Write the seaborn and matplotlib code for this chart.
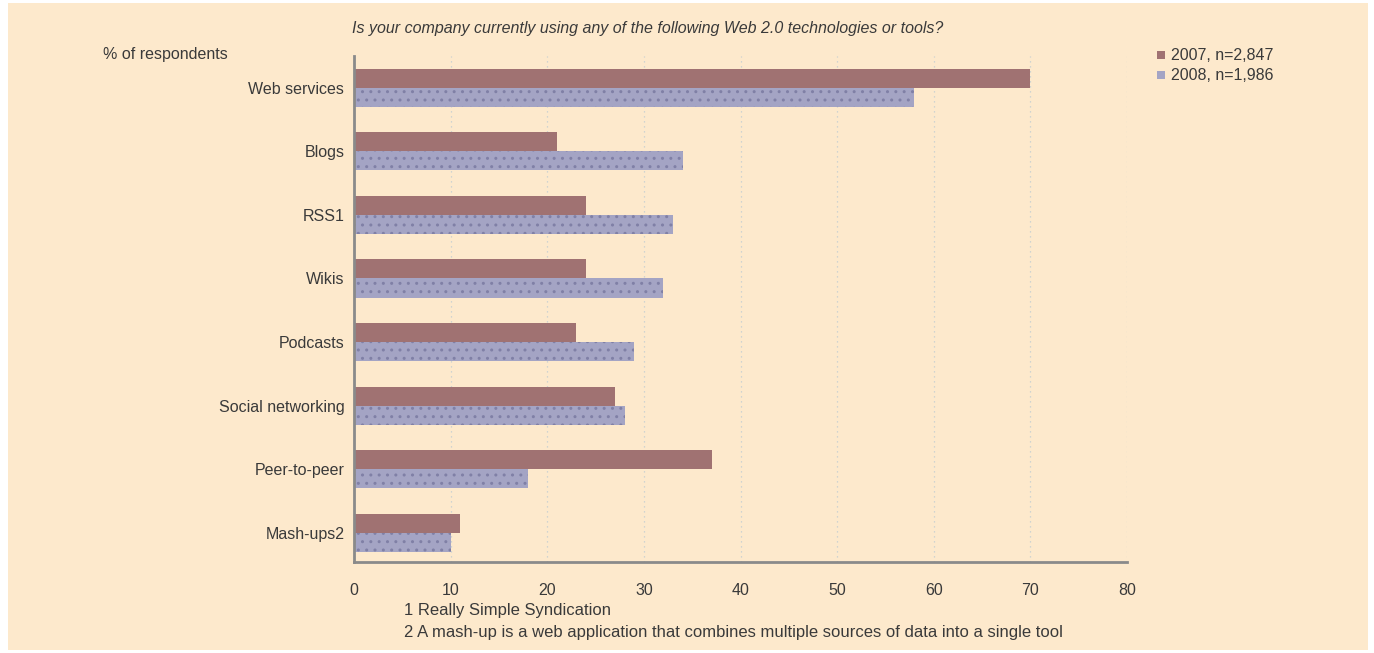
import matplotlib
matplotlib.use("Agg")
import matplotlib.pyplot as plt
import seaborn as sns
import pandas as pd
from matplotlib.patches import Rectangle

categories = ["Web services", "Blogs", "RSS1", "Wikis", "Podcasts",
              "Social networking", "Peer-to-peer", "Mash-ups2"]
values_2007 = [70, 21, 24, 24, 23, 27, 37, 11]
values_2008 = [58, 34, 33, 32, 29, 28, 18, 10]
series_labels = ["2007, n=2,847", "2008, n=1,986"]
x_ticks = [0, 10, 20, 30, 40, 50, 60, 70, 80]

df = pd.DataFrame({
    "category": categories * 2,
    "value": values_2007 + values_2008,
    "series": [series_labels[0]] * len(categories) + [series_labels[1]] * len(categories),
})

sns.set_style("white")
plt.rcParams["font.family"] = ["Liberation Sans", "DejaVu Sans"]

bg = "#fde9cc"
c2007 = "#a07272"
c2008 = "#a4a4c4"
txt = "#3a3a3a"
fs = 11.5

fig = plt.figure(figsize=(13.74, 6.53), dpi=100, facecolor="white")
fig.patches.append(Rectangle((8 / 1374, 0.005), (1368 - 8) / 1374, 0.99,
                             transform=fig.transFigure, facecolor=bg,
                             edgecolor="none", zorder=-10))

ax = fig.add_axes([354 / 1374, (653 - 562) / 653, (1127 - 354) / 1374, (562 - 56) / 653])
ax.set_facecolor("none")

sns.barplot(data=df, y="category", x="value", hue="series", orient="h",
            palette=[c2007, c2008], width=0.6, ax=ax, legend=False,
            saturation=1, linewidth=0, errorbar=None)

plt.rcParams["hatch.linewidth"] = 1.2
for p in ax.containers[1]:
    p.set_hatch("..")
    p.set_edgecolor("#8080a6")
    p.set_linewidth(0)

ax.set_xlim(0, 80)
ax.set_ylim(7.46, -0.5)
ax.set_xticks(x_ticks)
ax.set_xticklabels([str(t) for t in x_ticks], fontsize=fs, color=txt)
ax.tick_params(axis="x", length=0, pad=15)
ax.tick_params(axis="y", length=0, pad=7, labelsize=fs, labelcolor=txt)
ax.set_xlabel("")
ax.set_ylabel("")

for x in x_ticks[1:]:
    ax.axvline(x, color="#c2ccd0", linestyle=(0, (1, 3)), linewidth=0.9, zorder=0)

for s in ["top", "right"]:
    ax.spines[s].set_visible(False)
for s in ["left", "bottom"]:
    ax.spines[s].set_color("#8a8a8a")
    ax.spines[s].set_linewidth(2)

fig.text(352 / 1374, 1 - 28 / 653,
         "Is your company currently using any of the following Web 2.0 technologies or tools?",
         fontsize=fs, style="italic", color=txt, va="center", ha="left")
fig.text(103 / 1374, 1 - 55 / 653, "% of respondents", fontsize=fs, color=txt,
         va="center", ha="left")

for i, (lab, col) in enumerate(zip(series_labels, [c2007, c2008])):
    y = 1 - (55 + 20 * i) / 653
    fig.patches.append(Rectangle((1157 / 1374, y - 4 / 653), 8 / 1374, 8 / 653,
                                 transform=fig.transFigure, facecolor=col,
                                 edgecolor="none"))
    fig.text(1171 / 1374, y, lab, fontsize=fs, color=txt, va="center", ha="left")

fig.text(404 / 1374, 1 - 611 / 653, "1 Really Simple Syndication", fontsize=12,
         color=txt, va="center", ha="left")
fig.text(404 / 1374, 1 - 633 / 653,
         "2 A mash-up is a web application that combines multiple sources of data into a single tool",
         fontsize=12, color=txt, va="center", ha="left")

fig.savefig("out.png", dpi=100, facecolor="white")
